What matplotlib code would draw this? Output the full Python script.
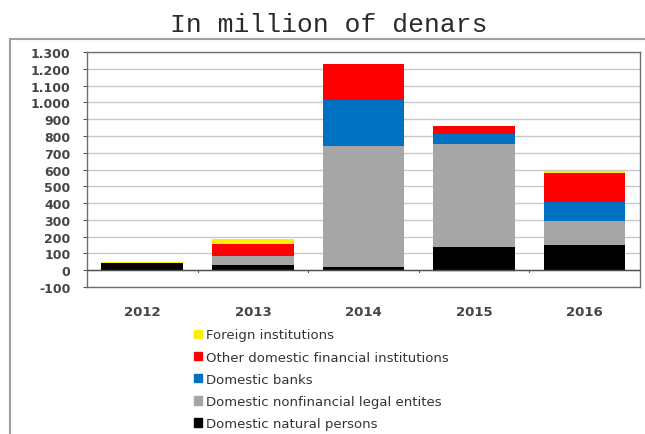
import matplotlib
matplotlib.use("Agg")
import matplotlib.pyplot as plt
from matplotlib.patches import Rectangle, Patch
from matplotlib.ticker import FuncFormatter
import numpy as np

# --- Data (million denars) ---
years = ['2012', '2013', '2014', '2015', '2016']
natural_persons = [45, 32, 20, 136, 150]
nonfinancial = [0, 53, 722, 618, 143]
banks = [0, 0, 275, 59, 115]
other_financial = [0, 70, 213, 46, 174]
foreign = [5, 30, 0, -10, 8]

series = [
    ('Domestic natural persons', natural_persons, '#000000'),
    ('Domestic nonfinancial legal entites', nonfinancial, '#a6a6a6'),
    ('Domestic banks', banks, '#0070c0'),
    ('Other domestic financial institutions', other_financial, '#ff0000'),
    ('Foreign institutions', foreign, '#ffee00'),
]

fig = plt.figure(figsize=(6.45, 4.35), dpi=100)
fig.text(0.51, 0.943, 'In million of denars', ha='center', va='center',
         fontsize=19, family='Liberation Mono', color='#2a2a2a')

# outer chart frame
fig.patches.append(Rectangle((0.016, -0.05), 0.99, 0.958, transform=fig.transFigure,
                             fill=False, edgecolor='#a0a0a0', linewidth=1.5))

ax = fig.add_axes([0.135, 0.338, 0.857, 0.540])
x = np.arange(len(years))
pos_bottom = np.zeros(len(years))
neg_bottom = np.zeros(len(years))
for name, vals, color in series:
    vals = np.array(vals, dtype=float)
    base = np.where(vals >= 0, pos_bottom, neg_bottom)
    ax.bar(x, vals, bottom=base, width=0.74, color=color, label=name, zorder=3)
    pos_bottom += np.clip(vals, 0, None)
    neg_bottom += np.clip(vals, None, 0)

ax.set_xlim(-0.5, 4.5)
ax.set_ylim(-100, 1300)
ax.set_yticks(np.arange(-100, 1301, 100))
ax.yaxis.set_major_formatter(FuncFormatter(lambda v, p: f'{int(v):,}'.replace(',', '.')))
ax.grid(True, axis='y', color='#c8c8c8', linewidth=1.0, zorder=0)
ax.axhline(0, color='#505050', linewidth=1.0, zorder=4)

ax.set_xticks(x)
ax.set_xticklabels(years, fontweight='bold')
ax.tick_params(axis='x', length=0, pad=13, labelsize=9.5, labelcolor='#454545')
ax.tick_params(axis='y', length=3, pad=9, labelsize=9, labelcolor='#454545', color='#555555')
for lbl in ax.get_yticklabels():
    lbl.set_fontweight('bold')
# category separators on the zero line
for b in np.arange(0.5, 4.5, 1.0):
    ax.plot([b, b], [0, -12], color='#555555', linewidth=0.8, zorder=4)
for s in ax.spines.values():
    s.set_color('#707070')
    s.set_linewidth(1.0)

handles = [Patch(color=c, label=n) for n, _, c in reversed(series)]
fig.legend(handles=handles, loc='upper left', bbox_to_anchor=(0.29, 0.258),
           frameon=False, fontsize=9.5, handlelength=0.6, handleheight=0.6,
           handletextpad=0.3, labelspacing=0.7, borderpad=0, labelcolor='#333333')

fig.savefig('out.png', dpi=100)
